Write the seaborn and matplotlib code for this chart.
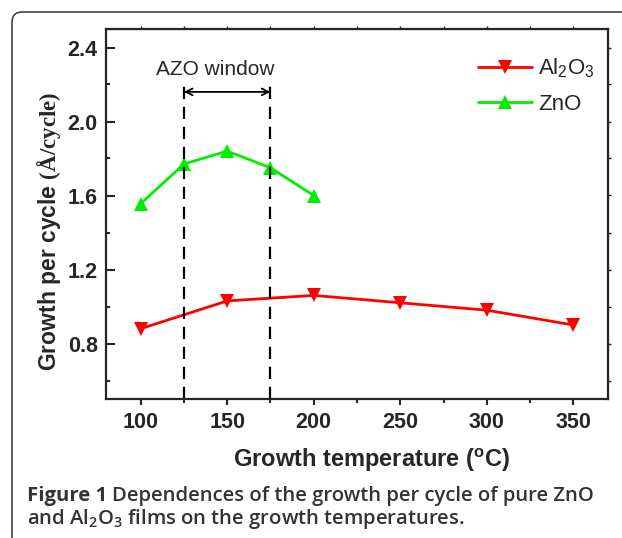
import numpy as np
import pandas as pd
import seaborn as sns
import matplotlib.pyplot as plt
from matplotlib.patches import FancyBboxPatch
from matplotlib.ticker import MultipleLocator
from matplotlib.transforms import IdentityTransform

# data
temp_al2o3 = [100, 150, 200, 250, 300, 350]
gpc_al2o3 = [0.88, 1.03, 1.06, 1.02, 0.98, 0.90]
temp_zno = [100, 125, 150, 175, 200]
gpc_zno = [1.555, 1.77, 1.84, 1.75, 1.60]
window_edges = [125, 175]

sns.set_style('ticks')
plt.rcParams['font.family'] = ['Liberation Sans', 'DejaVu Sans']
plt.rcParams['mathtext.fontset'] = 'custom'
plt.rcParams['mathtext.bf'] = 'Liberation Serif:bold'
plt.rcParams['mathtext.rm'] = 'Liberation Sans'

fig = plt.figure(figsize=(6.22, 5.38), dpi=100)
ax = fig.add_axes([106 / 622, 1 - 399 / 538, 502 / 622, 370 / 538])

df_al = pd.DataFrame({'T': temp_al2o3, 'gpc': gpc_al2o3})
df_zn = pd.DataFrame({'T': temp_zno, 'gpc': gpc_zno})

sns.lineplot(data=df_al, x='T', y='gpc', ax=ax, color='#ff0000', marker='v',
             markersize=9.5, markeredgewidth=0, linewidth=2,
             label=r'Al$\mathregular{_2}$O$\mathregular{_3}$')
sns.lineplot(data=df_zn, x='T', y='gpc', ax=ax, color='#00ee00', marker='^',
             markersize=9.5, markeredgewidth=0, linewidth=2, label='ZnO')

# AZO window
ax.vlines(window_edges, 0.5, 2.2, colors='black', linewidth=1.6,
          linestyles=(0, (5.5, 3.5)), clip_on=False)
ax.annotate('', xy=(window_edges[0], 2.16), xytext=(window_edges[1], 2.16),
            arrowprops=dict(arrowstyle='<->', color='black', lw=1.3,
                            shrinkA=0, shrinkB=0, mutation_scale=12))
ax.text(143, 2.28, 'AZO window', ha='center', va='center', fontsize=15)

ax.set_xlim(80, 370)
ax.set_ylim(0.5, 2.5)
ax.xaxis.set_major_locator(MultipleLocator(50))
ax.xaxis.set_minor_locator(MultipleLocator(25))
ax.yaxis.set_minor_locator(MultipleLocator(0.2))
ax.set_yticks([0.8, 1.2, 1.6, 2.0, 2.4])
ax.set_yticklabels(['0.8', '1.2', '1.6', '2.0', '2.4'])

for s in ax.spines.values():
    s.set_linewidth(1.6)
ax.tick_params(axis='x', which='major', direction='out', length=4.5, width=1.5,
               labelsize=15.5, pad=5)
ax.tick_params(axis='x', which='minor', direction='out', length=3, width=1.5)
ax.tick_params(axis='y', which='major', direction='in', length=6.5, width=1.5,
               labelsize=15.5, pad=6)
ax.tick_params(axis='y', which='minor', direction='in', length=3, width=1.5)
for lab in ax.get_xticklabels() + ax.get_yticklabels():
    lab.set_fontweight('bold')

# small outward ticks on top and right
top = ax.secondary_xaxis('top')
top.xaxis.set_major_locator(MultipleLocator(25))
top.tick_params(direction='out', length=2, width=1, labeltop=False)
right = ax.secondary_yaxis('right')
right.yaxis.set_major_locator(MultipleLocator(0.2))
right.tick_params(direction='out', length=2, width=1, labelright=False)

ax.set_xlabel('Growth temperature ($\\mathregular{^o}$C)', fontsize=17,
              fontweight='bold')
ax.xaxis.set_label_coords(0.528, -0.13)
ax.set_ylabel('Growth per cycle $\\mathbf{(Å/cycle)}$', fontsize=16.5,
              fontweight='bold')
ax.yaxis.set_label_coords(-0.085, 0.454)

ax.legend(loc='upper right', frameon=False, fontsize=16, handlelength=2.4,
          handletextpad=0.3, labelspacing=0.6, borderaxespad=0.5,
          bbox_to_anchor=(1.014, 0.979))

# caption
cap_kw = dict(fontsize=14.6, color='#333333', family=['Open Sans', 'DejaVu Sans'])
t1 = fig.text(27 / 622, 1 - 501 / 538, 'Figure 1', fontweight='bold',
              va='baseline', **cap_kw)
fig.canvas.draw()
bb = t1.get_window_extent()
fig.text((bb.x1 + 5) / 622, 1 - 501 / 538,
         'Dependences of the growth per cycle of pure ZnO', va='baseline',
         fontweight='semibold', **cap_kw)
fig.text(27 / 622, 1 - 524 / 538,
         r'and Al$\mathregular{_2}$O$\mathregular{_3}$ films on the growth temperatures.',
         va='baseline', fontweight='semibold', **cap_kw)

# rounded frame around the figure
frame = FancyBboxPatch((12, -30), 700, 538 - 12 + 30,
                       boxstyle='round,pad=0,rounding_size=10',
                       transform=IdentityTransform(), facecolor='none',
                       edgecolor='#444444', linewidth=1.2)
fig.patches.append(frame)

fig.savefig('out.png', dpi=100)
